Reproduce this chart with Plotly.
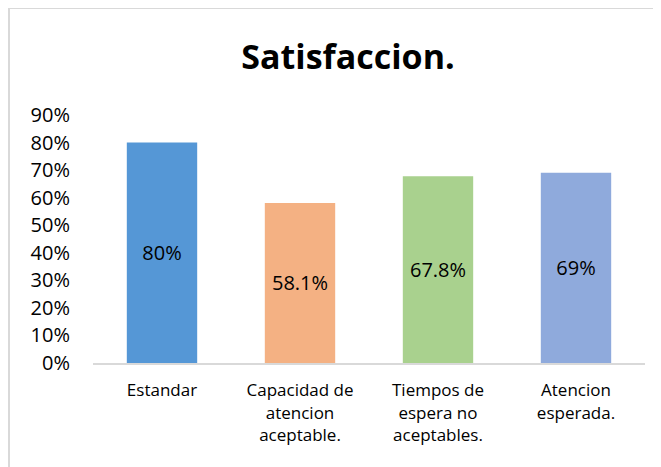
import plotly.graph_objects as go

categorias = [
    "Estandar",
    "Capacidad de<br>atencion<br>aceptable.",
    "Tiempos de<br>espera no<br>aceptables.",
    "Atencion<br>esperada.",
]
valores = [0.80, 0.581, 0.678, 0.69]
colores = ["#5597d6", "#f4b183", "#a9d18e", "#8faadc"]
ticks_y = [0, 0.1, 0.2, 0.3, 0.4, 0.5, 0.6, 0.7, 0.8, 0.9]

fuente = "'Open Sans', sans-serif"

etiquetas = [f"{round(v * 100, 1):g}%" for v in valores]

# la pagina deja 8px de margen en el body, asi que la figura es algo menor
ancho, alto = 653, 459
izq, arriba, plot_w, plot_h = 85, 107, 552, 248

fig = go.Figure()
fig.add_trace(
    go.Bar(
        x=categorias,
        y=valores,
        marker=dict(color=colores, line=dict(width=0)),
        width=0.51,
        text=etiquetas,
        textposition="inside",
        insidetextanchor="middle",
        constraintext="none",
        textfont=dict(family=fuente, size=20, color="black"),
        hoverinfo="skip",
    )
)

fig.update_layout(
    width=ancho,
    height=alto,
    margin=dict(l=izq, r=ancho - izq - plot_w, t=arriba, b=alto - arriba - plot_h),
    paper_bgcolor="white",
    plot_bgcolor="white",
    showlegend=False,
    font=dict(family=fuente, color="black"),
    title=dict(
        text="<b>Satisfaccion.</b>",
        x=340 / ancho,
        xanchor="center",
        y=1 - 49 / alto,
        yanchor="middle",
        font=dict(family=fuente, size=34, color="black"),
    ),
    xaxis=dict(
        showgrid=False,
        showline=True,
        linecolor="#d9d9d9",
        linewidth=2,
        ticks="",
        ticklabelstandoff=11,
        tickfont=dict(family=fuente, size=17, color="black"),
    ),
    yaxis=dict(
        range=[0, 0.9],
        tickvals=ticks_y,
        tickformat=".0%",
        showgrid=False,
        zeroline=False,
        showline=False,
        ticks="",
        ticklabelstandoff=22,
        tickfont=dict(family=fuente, size=20, color="black"),
    ),
    shapes=[
        dict(
            type="rect",
            xref="paper",
            yref="paper",
            x0=(1 - izq) / plot_w,
            x1=1.2,
            y0=-0.6,
            y1=1 + (arriba - 0) / plot_h,
            line=dict(color="#d9d9d9", width=2),
            fillcolor="rgba(0,0,0,0)",
            layer="below",
        )
    ],
)

fig.write_html("out.html")
